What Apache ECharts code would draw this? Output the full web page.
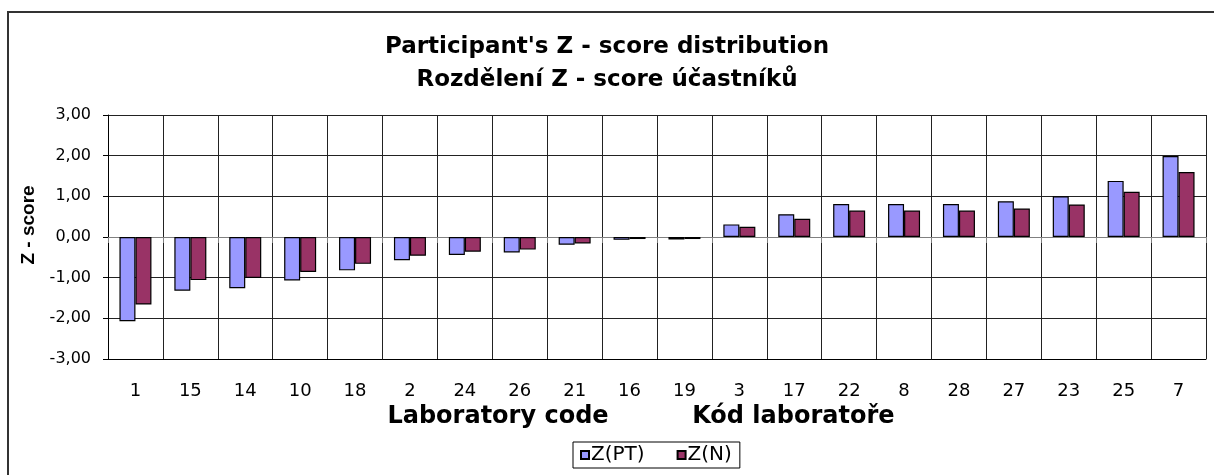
<!DOCTYPE html>
<html>
<head>
<meta charset="utf-8">
<script src="https://cdn.jsdelivr.net/npm/echarts@6/dist/echarts.min.js"></script>
<style>
  html, body { margin: 0; padding: 0; background: #fff; }
  .frame {
    position: absolute; left: 7px; top: 11px; width: 1300px; height: 600px;
    border-top: 2px solid #333; border-left: 2px solid #333;
  }
  #chart { position: absolute; left: 0; top: 0; width: 1214px; height: 475px; }
</style>
</head>
<body>
<div class="frame"></div>
<div id="chart"></div>
<script>
// laboratory codes, sorted by score
const labCodes = ['1', '15', '14', '10', '18', '2', '24', '26', '21', '16',
  '19', '3', '17', '22', '8', '28', '27', '23', '25', '7'];
const zPT = [-2.07, -1.32, -1.26, -1.07, -0.82, -0.57, -0.44, -0.38, -0.19, -0.07,
  -0.06, 0.31, 0.56, 0.81, 0.81, 0.81, 0.88, 1.00, 1.38, 1.99];
const zN = [-1.66, -1.06, -1.01, -0.86, -0.66, -0.46, -0.36, -0.31, -0.16, -0.05,
  -0.05, 0.25, 0.45, 0.65, 0.65, 0.65, 0.70, 0.80, 1.11, 1.60];

// the original text is a bit wide, DejaVu fits it better than Arial
const font = 'DejaVu Sans, sans-serif';
const narrow = 'Liberation Sans, Arial, sans-serif';

const chart = echarts.init(document.getElementById('chart'));

chart.setOption({
  animation: false,
  textStyle: { fontFamily: font, color: '#000' },
  title: {
    text: "Participant's Z - score distribution\nRozdělení Z - score účastníků",
    left: 'center',
    top: 31,
    padding: [0, 14, 0, 0],
    textStyle: { fontFamily: font, fontSize: 23, fontWeight: 'bold', lineHeight: 33, color: '#000' }
  },
  legend: {
    left: 573,
    top: 442,
    padding: [3, 8, 3, 7],
    borderColor: '#000',
    borderWidth: 1,
    itemWidth: 8,
    itemHeight: 8,
    itemGap: 32,
    icon: 'rect',
    textStyle: { fontFamily: font, fontSize: 20, color: '#000', padding: [0, 0, 0, -3] },
    data: ['Z(PT)', 'Z(N)']
  },
  grid: { left: 108, right: 8, top: 115, bottom: 116 },
  xAxis: [
    {
      type: 'category',
      data: labCodes,
      position: 'bottom',
      axisLine: { onZero: false, lineStyle: { color: '#000', width: 1 } },
      axisTick: { show: false },
      axisLabel: { fontSize: 18, color: '#000', margin: 23, fontFamily: font },
      splitLine: { show: true, lineStyle: { color: '#222', width: 1 } },
      name: 'Laboratory code          Kód laboratoře',
      nameLocation: 'middle',
      nameGap: 30,
      nameTextStyle: { fontSize: 24, fontWeight: 'bold', color: '#000', fontFamily: font, padding: [0, 32, 0, 0] }
    },
    {
      type: 'category',
      data: labCodes,
      position: 'bottom',
      axisLine: { onZero: true, onZeroAxisIndex: 0, lineStyle: { color: '#808080', width: 1 } },
      axisTick: { show: true, length: 6, lineStyle: { color: '#808080' } },
      axisLabel: { show: false },
      splitLine: { show: false }
    }
  ],
  yAxis: {
    type: 'value',
    min: -3,
    max: 3,
    interval: 1,
    axisLine: { show: true, onZero: false, lineStyle: { color: '#000', width: 1 } },
    axisTick: { show: true, length: 5, lineStyle: { color: '#000' } },
    axisLabel: {
      fontSize: 16, color: '#000', margin: 17, fontFamily: font,
      formatter: v => v.toFixed(2).replace('.', ',')
    },
    splitLine: { show: true, lineStyle: { color: '#222', width: 1 } },
    name: 'Z - score',
    nameLocation: 'middle',
    nameGap: 64,
    nameRotate: 90,
    nameTextStyle: { fontSize: 19, fontWeight: 'bold', color: '#000', fontFamily: narrow, padding: [0, 0, 0, 24] }
  },
  series: [
    {
      name: 'Z(PT)',
      type: 'bar',
      data: zPT,
      barWidth: 16,
      barGap: '0%',
      itemStyle: { color: '#9999FF', borderColor: '#000', borderWidth: 1.2 }
    },
    {
      name: 'Z(N)',
      type: 'bar',
      data: zN,
      barWidth: 16,
      barGap: '0%',
      itemStyle: { color: '#993366', borderColor: '#000', borderWidth: 1.2 }
    }
  ]
});
</script>
</body>
</html>
